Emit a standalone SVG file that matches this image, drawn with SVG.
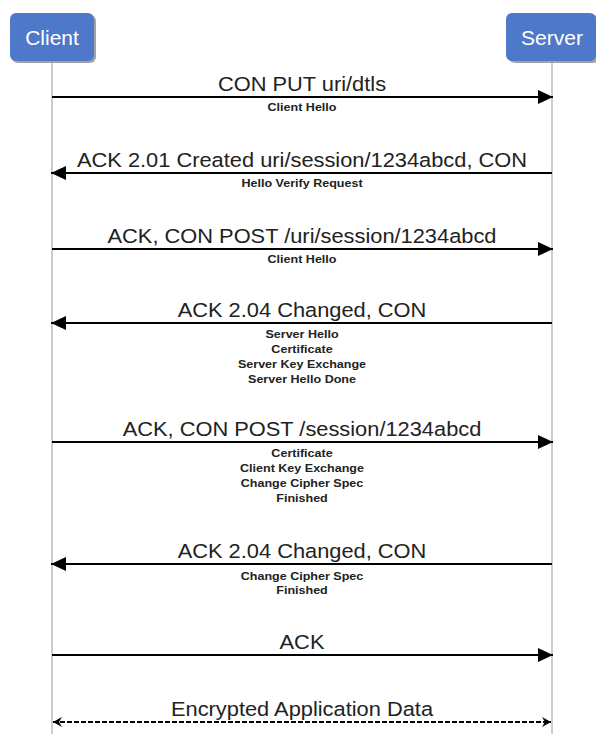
<svg xmlns="http://www.w3.org/2000/svg" width="596" height="734" viewBox="0 0 596 734">
<style>
.box{fill:#4e78c9}
.shadow{fill:#555;opacity:0.55}
.actor{font-family:"Liberation Sans",Arial,sans-serif;font-size:21px;fill:#fff;text-anchor:middle}
.life{stroke:#9a9a9a;stroke-width:1;fill:none}
.msg{stroke:#000;stroke-width:2;fill:none}
.dash{stroke:#000;stroke-width:2;fill:none;stroke-dasharray:5 2}
.big{font-family:"Liberation Sans",Arial,sans-serif;font-size:19.5px;fill:#222;text-anchor:middle}
.small{font-family:"Liberation Sans",Arial,sans-serif;font-size:11.2px;font-weight:bold;fill:#222;text-anchor:middle}
</style>
<defs>
<marker id="ah" markerUnits="userSpaceOnUse" markerWidth="16" markerHeight="14" viewBox="0 0 16 14" refX="15" refY="7" orient="auto">
<path d="M0,0 L15,7 L0,14 z" fill="#000"/>
</marker>
<marker id="dh" markerUnits="userSpaceOnUse" markerWidth="10" markerHeight="10" viewBox="0 0 10 10" refX="9" refY="5" orient="auto-start-reverse">
<path d="M0,0 L9,5 L0,10 L3,5 z" fill="#000"/>
</marker>
</defs>
<rect width="596" height="734" fill="#fff"/>
<g id="client">
<rect class="shadow" x="12" y="15" width="84" height="48" rx="6"/>
<rect class="box" x="10" y="13" width="84" height="48" rx="6"/>
<text class="actor" x="52" y="45">Client</text>
<line class="life" x1="52" y1="61" x2="52" y2="734"/>
</g>
<g id="server">
<rect class="shadow" x="509" y="15" width="90" height="48" rx="6"/>
<rect class="box" x="506" y="13" width="90" height="48" rx="6"/>
<text class="actor" x="552" y="45">Server</text>
<line class="life" x1="552" y1="61" x2="552" y2="734"/>
</g>
<g id="connectors">
<line class="msg" x1="52" y1="97" x2="553" y2="97" marker-end="url(#ah)"/>
<line class="msg" x1="552" y1="173" x2="51" y2="173" marker-end="url(#ah)"/>
<line class="msg" x1="52" y1="249" x2="553" y2="249" marker-end="url(#ah)"/>
<line class="msg" x1="552" y1="323" x2="51" y2="323" marker-end="url(#ah)"/>
<line class="msg" x1="52" y1="442" x2="553" y2="442" marker-end="url(#ah)"/>
<line class="msg" x1="552" y1="564" x2="51" y2="564" marker-end="url(#ah)"/>
<line class="msg" x1="52" y1="655" x2="553" y2="655" marker-end="url(#ah)"/>
<line class="dash" x1="53" y1="722" x2="551" y2="722" marker-start="url(#dh)" marker-end="url(#dh)"/>
</g>
<g id="labels" transform="translate(302,0) scale(1.12,1)">
<text class="big" x="0" y="91">CON PUT uri/dtls</text>
<text class="small" x="0" y="111">Client Hello</text>
<text class="big" x="0" y="167">ACK 2.01 Created uri/session/1234abcd, CON</text>
<text class="small" x="0" y="187">Hello Verify Request</text>
<text class="big" x="0" y="243">ACK, CON POST /uri/session/1234abcd</text>
<text class="small" x="0" y="263">Client Hello</text>
<text class="big" x="0" y="317">ACK 2.04 Changed, CON</text>
<text class="small" x="0" y="338">Server Hello</text>
<text class="small" x="0" y="353">Certificate</text>
<text class="small" x="0" y="368">Server Key Exchange</text>
<text class="small" x="0" y="383">Server Hello Done</text>
<text class="big" x="0" y="436">ACK, CON POST /session/1234abcd</text>
<text class="small" x="0" y="457">Certificate</text>
<text class="small" x="0" y="472">Client Key Exchange</text>
<text class="small" x="0" y="487">Change Cipher Spec</text>
<text class="small" x="0" y="502">Finished</text>
<text class="big" x="0" y="558">ACK 2.04 Changed, CON</text>
<text class="small" x="0" y="580">Change Cipher Spec</text>
<text class="small" x="0" y="594">Finished</text>
<text class="big" x="0" y="649">ACK</text>
<text class="big" x="0" y="716">Encrypted Application Data</text>
</g>
</svg>
